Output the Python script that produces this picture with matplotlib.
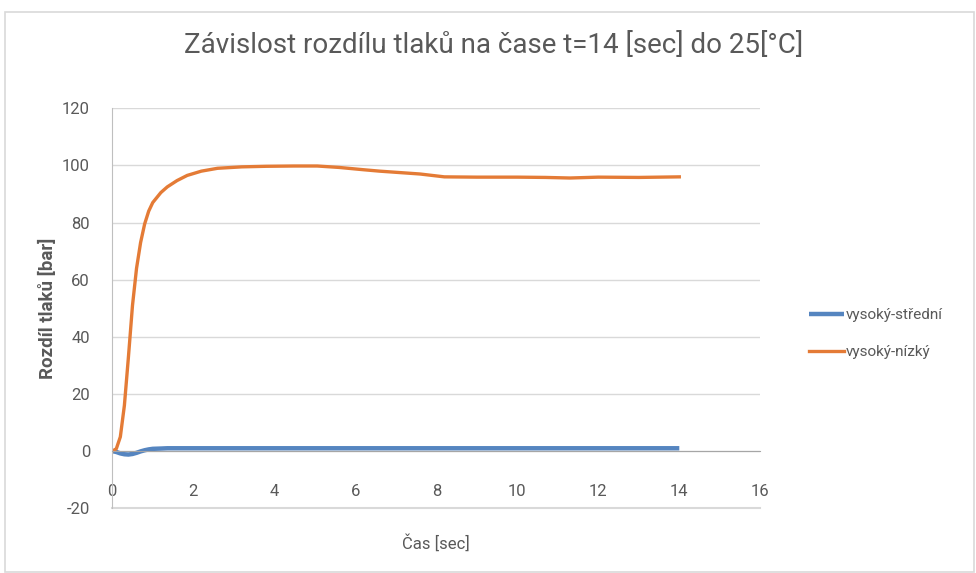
import matplotlib.pyplot as plt
from matplotlib.patches import Rectangle

# time [sec]
cas = [0, 0.1, 0.2, 0.3, 0.4, 0.5, 0.6, 0.7, 0.8, 0.9, 1.0, 1.2, 1.36, 1.6, 1.85, 2.2, 2.6,
       3.2, 3.8, 4.5, 5.06, 5.6, 6.2, 6.6, 7.1, 7.6, 8.2, 9.0, 10.0, 10.7, 11.3, 12.0, 13.0, 14.0]
vysoky_nizky = [0, 0.8, 5, 16, 33, 51, 64, 73, 79.5, 84, 87, 90.5, 92.5, 94.7, 96.5, 98, 99,
                99.5, 99.7, 99.8, 99.8, 99.3, 98.5, 98, 97.5, 97, 96, 95.9, 95.9, 95.8, 95.6, 95.9, 95.8, 96]
vysoky_stredni = [0, -0.3, -0.8, -1.1, -1.2, -1.0, -0.6, -0.1, 0.3, 0.6, 0.8, 0.9, 1, 1, 1, 1, 1,
                  1, 1, 1, 1, 1, 1, 1, 1, 1, 1, 1, 1, 1, 1, 1, 1, 1]

x_ticks = [0, 2, 4, 6, 8, 10, 12, 14, 16]
y_ticks = [-20, 0, 20, 40, 60, 80, 100, 120]

plt.rcParams['font.family'] = ['Roboto', 'DejaVu Sans']
plt.rcParams['axes.unicode_minus'] = False
txt = '#595959'

fig = plt.figure(figsize=(9.76, 5.73), dpi=100)
ax = fig.add_axes([0.115, 0.113, 0.664, 0.698])

ax.plot(cas, vysoky_stredni, color='#5585C0', lw=3.2, label='vysoký-střední', solid_capstyle='butt')
ax.plot(cas, vysoky_nizky, color='#E47B36', lw=2.4, label='vysoký-nízký')

ax.set_xlim(0, 16)
ax.set_ylim(-20, 120)
ax.set_xticks(x_ticks)
ax.set_yticks(y_ticks)
ax.grid(axis='y', color='#d9d9d9', lw=1)
ax.axhline(-20, color='#d9d9d9', lw=1.5, zorder=0, clip_on=False)
ax.set_axisbelow(True)

for s in ['top', 'right']:
    ax.spines[s].set_visible(False)
ax.spines['bottom'].set_position(('data', 0))
ax.spines['bottom'].set_color('#a6a6a6')
ax.spines['left'].set_color('#bfbfbf')
ax.tick_params(axis='x', length=0, pad=24, labelsize=12, labelcolor=txt)
ax.tick_params(axis='y', length=0, pad=16, labelsize=12, labelcolor=txt)

fig.text(0.506, 0.92, 'Závislost rozdílu tlaků na čase t=14 [sec] do 25[°C]', fontsize=20,
         color=txt, ha='center', va='center')
ax.set_xlabel('Čas [sec]', fontsize=12, color=txt)
ax.xaxis.set_label_coords(0.5, -0.065)
ax.set_ylabel('Rozdíl tlaků [bar]', fontsize=13.5, color=txt, fontweight='bold')
ax.yaxis.set_label_coords(-0.085, 0.5)

fig.legend(loc='center left', bbox_to_anchor=(0.815, 0.418), frameon=False, fontsize=11,
           labelcolor=txt, handlelength=2.3, handletextpad=0.1, labelspacing=1.5)

fig.patches.append(Rectangle((0.005, 0.002), 0.993, 0.977, transform=fig.transFigure,
                             fill=False, edgecolor='#d9d9d9', lw=1.2))

fig.savefig('out.png', dpi=100)
